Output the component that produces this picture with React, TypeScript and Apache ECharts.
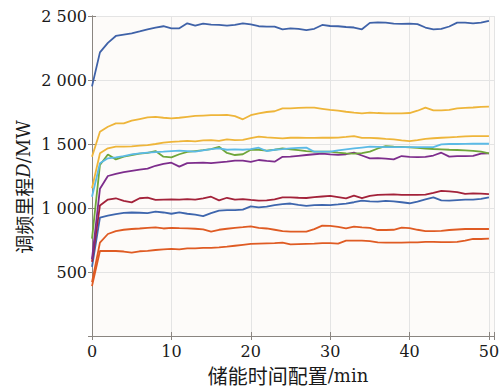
import React, { useEffect, useRef } from "react";
import * as echarts from "echarts";

// Storage duration configuration (min), 0..50
const minutes: number[] = Array.from({ length: 51 }, (_, i) => i);

// Frequency-regulation mileage D (MW) for each scenario
const blueTop = [1950, 2216, 2290, 2344, 2355, 2365, 2380, 2396, 2410, 2420, 2404, 2404, 2443, 2424, 2440, 2432, 2430, 2424, 2430, 2443, 2435, 2420, 2417, 2417, 2396, 2404, 2400, 2390, 2400, 2430, 2422, 2420, 2414, 2410, 2396, 2446, 2450, 2448, 2440, 2438, 2440, 2436, 2410, 2396, 2400, 2418, 2448, 2448, 2443, 2448, 2462];
const yellowTop = [1400, 1596, 1635, 1661, 1661, 1682, 1695, 1708, 1712, 1705, 1700, 1705, 1712, 1719, 1722, 1725, 1725, 1727, 1718, 1693, 1725, 1740, 1750, 1756, 1779, 1779, 1782, 1784, 1784, 1775, 1766, 1760, 1752, 1745, 1740, 1745, 1742, 1740, 1740, 1740, 1742, 1760, 1784, 1762, 1762, 1766, 1779, 1782, 1785, 1790, 1792];
const yellowMid = [1154, 1427, 1466, 1479, 1480, 1482, 1487, 1492, 1500, 1510, 1516, 1520, 1525, 1520, 1528, 1531, 1525, 1536, 1530, 1532, 1545, 1557, 1552, 1548, 1544, 1549, 1550, 1548, 1548, 1549, 1549, 1550, 1555, 1562, 1548, 1548, 1545, 1540, 1536, 1528, 1523, 1530, 1540, 1545, 1549, 1552, 1555, 1560, 1562, 1562, 1562];
const green = [760, 1336, 1418, 1380, 1401, 1414, 1425, 1430, 1445, 1401, 1395, 1420, 1438, 1445, 1452, 1460, 1478, 1430, 1414, 1420, 1455, 1455, 1448, 1455, 1466, 1458, 1452, 1445, 1440, 1440, 1440, 1432, 1427, 1425, 1428, 1440, 1465, 1484, 1480, 1477, 1474, 1470, 1465, 1461, 1458, 1455, 1453, 1450, 1447, 1440, 1427];
const lightBlue = [1088, 1349, 1388, 1396, 1405, 1419, 1427, 1432, 1436, 1440, 1445, 1448, 1445, 1440, 1450, 1460, 1466, 1455, 1458, 1455, 1460, 1471, 1445, 1455, 1460, 1466, 1470, 1472, 1440, 1440, 1440, 1450, 1458, 1465, 1472, 1479, 1477, 1475, 1475, 1476, 1475, 1475, 1476, 1475, 1497, 1500, 1500, 1501, 1502, 1502, 1502];
const purple = [600, 1150, 1250, 1266, 1280, 1290, 1300, 1307, 1330, 1345, 1354, 1323, 1350, 1352, 1354, 1350, 1356, 1362, 1370, 1370, 1360, 1375, 1368, 1362, 1400, 1401, 1408, 1414, 1420, 1425, 1419, 1415, 1420, 1432, 1410, 1388, 1390, 1385, 1380, 1406, 1400, 1398, 1400, 1410, 1432, 1401, 1405, 1406, 1408, 1425, 1427];
const darkRed = [580, 1020, 1066, 1076, 1055, 1044, 1076, 1081, 1063, 1066, 1068, 1066, 1070, 1066, 1075, 1088, 1060, 1080, 1066, 1070, 1063, 1057, 1060, 1068, 1083, 1083, 1080, 1078, 1085, 1090, 1094, 1085, 1076, 1096, 1078, 1095, 1102, 1105, 1107, 1102, 1103, 1103, 1105, 1118, 1133, 1130, 1124, 1110, 1115, 1112, 1109];
const blueLow = [540, 925, 940, 953, 962, 965, 963, 960, 971, 965, 955, 965, 955, 948, 937, 960, 979, 984, 984, 988, 1012, 1005, 1010, 1023, 1030, 1035, 1025, 1016, 1022, 1025, 1023, 1028, 1035, 1045, 1057, 1052, 1050, 1055, 1052, 1045, 1037, 1050, 1068, 1083, 1060, 1058, 1062, 1065, 1065, 1072, 1083];
const orangeHigh = [420, 729, 797, 820, 830, 836, 840, 845, 849, 840, 845, 842, 841, 838, 833, 815, 830, 838, 845, 850, 857, 845, 840, 830, 820, 815, 815, 815, 835, 862, 860, 852, 841, 855, 848, 845, 828, 828, 830, 846, 843, 830, 820, 820, 822, 828, 832, 836, 836, 836, 836];
const orangeLow = [390, 664, 664, 664, 660, 651, 662, 665, 672, 676, 680, 676, 685, 685, 688, 688, 692, 698, 705, 712, 719, 722, 724, 726, 729, 716, 718, 720, 722, 725, 726, 722, 745, 745, 745, 742, 732, 730, 730, 730, 732, 732, 735, 735, 733, 733, 735, 745, 758, 758, 760];

const xTicks = [0, 10, 20, 30, 40, 50];
const yTicks = [500, 1000, 1500, 2000, 2500];

const lines: { values: number[]; color: string }[] = [
  { values: orangeLow, color: "#df5b23" },
  { values: orangeHigh, color: "#df5b23" },
  { values: blueLow, color: "#3e66ad" },
  { values: darkRed, color: "#a3223a" },
  { values: purple, color: "#7d2d8c" },
  { values: green, color: "#6fa63a" },
  { values: lightBlue, color: "#5bbae6" },
  { values: yellowMid, color: "#eeb53a" },
  { values: yellowTop, color: "#eeb53a" },
  { values: blueTop, color: "#3f62a8" },
];

const SERIF = "DejaVu Serif";
const CJK = "Noto Sans CJK SC";
const FRAME = "#8a8580";
const INK = "#1a1a1a";

const fmtThousands = (v: number): string => {
  if (!yTicks.includes(v)) return "";
  if (v < 1000) return String(v);
  return `${Math.floor(v / 1000)} ${String(v % 1000).padStart(3, "0")}`;
};

export default function App() {
  const ref = useRef<HTMLDivElement>(null);

  useEffect(() => {
    document.body.style.margin = "0";
    if (!ref.current) return;
    const chart = echarts.init(ref.current, undefined, { renderer: "svg" });

    const hiddenAxis = {
      axisLabel: { show: false },
      axisLine: { show: true, lineStyle: { color: FRAME, width: 1 } },
      axisTick: { show: true, inside: true, length: 4, lineStyle: { color: FRAME } },
      splitLine: { show: false },
    };

    chart.setOption({
      animation: false,
      backgroundColor: "#ffffff",
      grid: {
        left: 92,
        right: 9.5,
        top: 16,
        bottom: 54,
        show: true,
        backgroundColor: "#fdfbf9",
        borderWidth: 0,
      },
      xAxis: [
        {
          type: "value",
          min: 0,
          max: 50.7,
          interval: 10,
          position: "bottom",
          axisLine: { show: true, lineStyle: { color: FRAME, width: 1 } },
          axisTick: { show: true, inside: true, length: 4, lineStyle: { color: FRAME } },
          splitLine: { show: true, lineStyle: { color: "#e4e4e4", width: 1 } },
          axisLabel: {
            color: INK,
            fontFamily: SERIF,
            fontSize: 16,
            margin: 7,
            formatter: (v: number) => (xTicks.includes(v) ? String(v) : ""),
          },
        },
        { type: "value", min: 0, max: 50.7, interval: 10, position: "top", ...hiddenAxis },
      ],
      yAxis: [
        {
          type: "value",
          min: 0,
          max: 2500,
          interval: 500,
          position: "left",
          axisLine: { show: true, lineStyle: { color: FRAME, width: 1 } },
          axisTick: { show: true, inside: true, length: 4, lineStyle: { color: FRAME } },
          splitLine: { show: true, lineStyle: { color: "#e4e4e4", width: 1 } },
          axisLabel: {
            color: INK,
            fontFamily: SERIF,
            fontSize: 16,
            margin: 5,
            formatter: fmtThousands,
          },
        },
        { type: "value", min: 0, max: 2500, interval: 500, position: "right", ...hiddenAxis },
      ],
      graphic: [
        {
          type: "text",
          x: 288,
          y: 375,
          style: {
            text: "{c|储能时间配置}{s|/min}",
            align: "center",
            verticalAlign: "middle",
            rich: {
              c: { fontFamily: CJK, fontSize: 20, fill: INK },
              s: { fontFamily: SERIF, fontSize: 18, fill: INK },
            },
          },
        },
        {
          type: "text",
          x: 23,
          y: 187,
          rotation: Math.PI / 2,
          style: {
            text: "{c|调频里程}{i|D}{s|/MW}",
            align: "center",
            verticalAlign: "middle",
            rich: {
              c: { fontFamily: CJK, fontSize: 19, fill: INK },
              i: { fontFamily: SERIF, fontSize: 18, fontStyle: "italic", fill: INK },
              s: { fontFamily: SERIF, fontSize: 18, fill: INK },
            },
          },
        },
      ],
      series: lines.map((l) => ({
        type: "line",
        xAxisIndex: 0,
        yAxisIndex: 0,
        showSymbol: false,
        symbol: "none",
        lineStyle: { color: l.color, width: 1.8 },
        data: minutes.map((m, i) => [m, l.values[i]]),
      })),
    });

    return () => chart.dispose();
  }, []);

  return <div ref={ref} style={{ width: 504, height: 390 }} />;
}
